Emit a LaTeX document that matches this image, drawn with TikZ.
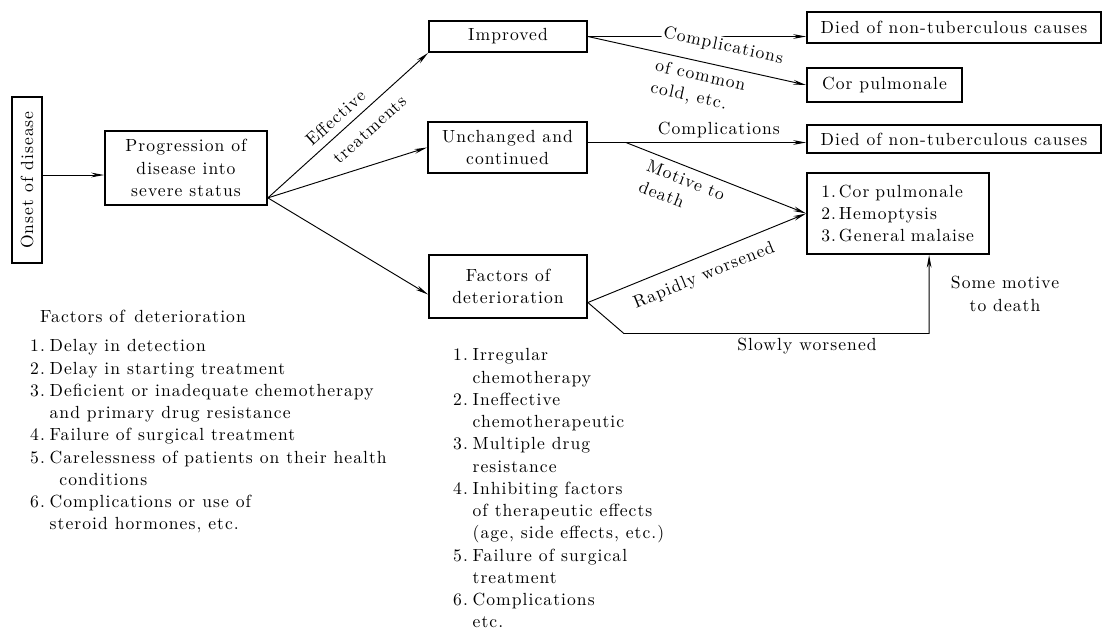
\documentclass[tikz,border=0pt]{standalone}
\usepackage{fontspec}
\setmainfont{lmroman10-regular.otf}[LetterSpace=6]
\usepackage{tikz}
\usetikzlibrary{calc, arrows.meta}

\tikzset{
  box/.style={draw, line width=1.5pt, inner sep=2pt, align=center},
  arr/.style={line width=0.8pt, -{Stealth[length=11pt,width=4pt]}},
}

\begin{document}
\begin{tikzpicture}[x=0.03cm, y=-0.03cm, font=\fontsize{15}{19}\selectfont]
  \useasboundingbox (0,0) rectangle (1102,636);

  \node[box, minimum width=0.9cm, minimum height=4.98cm] (onset) at (27,180) {\rotatebox{90}{Onset of disease}};
  \node[box, minimum width=4.86cm, minimum height=2.22cm] (prog) at (186,168) {Progression of\\disease into\\severe status};
  \node[box, minimum width=4.74cm, minimum height=0.93cm] (impr) at (508,36.5) {Improved};
  \node[box, minimum width=4.77cm, minimum height=1.53cm] (unch) at (507.5,147.5) {Unchanged and\\continued};
  \node[box, minimum width=4.74cm, minimum height=1.89cm] (fact) at (508,286.5) {Factors of\\deterioration};
  \node[box, minimum width=8.82cm, minimum height=0.93cm] (died1) at (954,27.5) {Died of non-tuberculous causes};
  \node[box, minimum width=4.65cm, minimum height=1.02cm] (cor) at (884.5,85) {Cor pulmonale};
  \node[box, minimum width=8.82cm, minimum height=0.84cm] (died2) at (954,139) {Died of non-tuberculous causes};
  \node[box, minimum width=5.46cm, minimum height=2.43cm, text width=4.6cm, align=left] (causes) at (898,213.5)
    {1.\,Cor pulmonale\\2.\,Hemoptysis\\3.\,General malaise};

  \coordinate (oe) at ($(onset.east)+(0,-5)$);
  \draw[arr] (oe) -- (oe -| prog.west);

  \coordinate (fork) at ($(prog.south east)+(0,-8)$);
  \draw[arr] (fork) -- (impr.south west)
    node[pos=0.48, sloped, above=3pt] {Effective}
    node[pos=0.56, sloped, below=7pt] {treatments};
  \draw[arr] (fork) -- (unch.west);
  \draw[arr] (fork) -- ($(fact.west)+(0,8)$);

  \draw[arr] (impr.east) -- (impr.east -| died1.west);
  \draw[arr] (impr.east) -- (cor.west)
    node[pos=0.6, sloped, above=9pt, fill=white, inner sep=1pt] {Complications}
    node[pos=0.53, sloped, below=2pt, align=left] {of common\\cold, etc.};

  \coordinate (ue) at ($(unch.east)+(0,-5)$);
  \draw[arr] (ue) -- (ue -| died2.west) node[pos=0.6, above] {Complications};
  \coordinate (mv) at ($(ue)+(38,0)$);
  \draw[arr] (mv) -- (causes.west)
    node[pos=0.36, sloped, below=2pt, align=left] {Motive to\\death};

  \coordinate (fo) at ($(fact.east)+(0,16)$);
  \draw[arr] (fo) -- (causes.west) node[midway, sloped, below=6pt] {Rapidly worsened};
  \coordinate (sw) at ($(causes.south west)+(123,0)$);
  \draw[arr] (fo) -- ++(36,31) -| (sw) node[pos=0.3, below] {Slowly worsened};
  \node[align=center] (motive) at (1005,294) {Some motive\\to death};

  \node[anchor=west] (facthead) at (36,316) {Factors of\, deterioration};
  \node[anchor=north west, inner sep=0pt] (leftlist) at (30,336) {%
    \begin{tabular}{@{}l@{\hspace{4pt}}l@{}}
      1. & Delay in detection\\
      2. & Delay in starting treatment\\
      3. & Deficient or inadequate chemotherapy\\
         & and primary drug resistance\\
      4. & Failure of surgical treatment\\
      5. & Carelessness of patients on their health\\
         & \, conditions\\
      6. & Complications or use of\\
         & steroid hormones, etc.
    \end{tabular}};
  \node[anchor=north west, inner sep=0pt] (midlist) at (453,345) {%
    \begin{tabular}{@{}l@{\hspace{4pt}}l@{}}
      1. & Irregular\\
         & chemotherapy\\
      2. & Ineffective\\
         & chemotherapeutic\\
      3. & Multiple drug\\
         & resistance\\
      4. & Inhibiting factors\\
         & of therapeutic effects\\
         & (age, side effects, etc.)\\
      5. & Failure of surgical\\
         & treatment\\
      6. & Complications\\
         & etc.
    \end{tabular}};
\end{tikzpicture}
\end{document}
